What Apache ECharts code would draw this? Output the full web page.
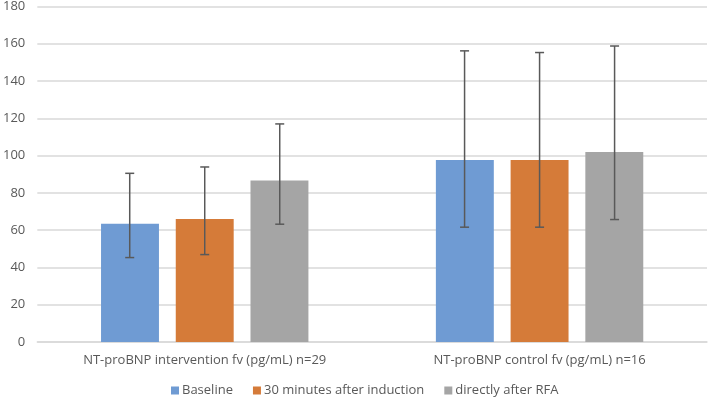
<!DOCTYPE html>
<html><head><meta charset="utf-8">
<script src="https://cdn.jsdelivr.net/npm/echarts@6/dist/echarts.min.js"></script>
<style>html,body{margin:0;padding:0;background:#fff}#c{width:709px;height:404px}</style>
</head><body><div id="c"></div>
<script>
const categories = ['NT-proBNP intervention fv (pg/mL) n=29', 'NT-proBNP control fv (pg/mL) n=16'];
const seriesNames = ['Baseline', '30 minutes after induction', 'directly after RFA'];
const baseline = [63.5, 97.6];
const after30 = [66, 97.6];
const afterRFA = [86.6, 101.9];
const baselineLow = [45.3, 61.6];
const baselineHigh = [90.5, 156.2];
const after30Low = [46.9, 61.6];
const after30High = [93.9, 155.3];
const afterRFALow = [63.2, 65.7];
const afterRFAHigh = [117.0, 158.8];
const yTicks = [0, 20, 40, 60, 80, 100, 120, 140, 160, 180];

const colors = ['#6f9bd3', '#d57b39', '#a5a5a5'];
const values = [baseline, after30, afterRFA];
const lows = [baselineLow, after30Low, afterRFALow];
const highs = [baselineHigh, after30High, afterRFAHigh];
const barFrac = 0.173, gapFrac = 0.051;

const chart = echarts.init(document.getElementById('c'));
const series = [];
values.forEach((v, i) => {
  series.push({
    name: seriesNames[i], type: 'bar', data: v,
    barWidth: (barFrac * 100) + '%', barGap: '29%',
    itemStyle: { color: colors[i] }, z: 2
  });
});
values.forEach((v, i) => {
  series.push({
    type: 'custom', name: 'err' + i, z: 5,
    data: categories.map((c, k) => [k, lows[i][k], highs[i][k]]),
    renderItem: function (params, api) {
      const k = api.value(0);
      const band = api.size([1, 0])[0];
      const off = (i - 1) * band * (barFrac + gapFrac);
      const lo = api.coord([k, api.value(1)]);
      const hi = api.coord([k, api.value(2)]);
      const x = lo[0] + off;
      const cap = 4.5;
      const st = { stroke: '#595959', lineWidth: 1.5 };
      return { type: 'group', children: [
        { type: 'line', shape: { x1: x, y1: lo[1], x2: x, y2: hi[1] }, style: st },
        { type: 'line', shape: { x1: x - cap, y1: lo[1], x2: x + cap, y2: lo[1] }, style: st },
        { type: 'line', shape: { x1: x - cap, y1: hi[1], x2: x + cap, y2: hi[1] }, style: st }
      ]};
    },
    encode: { x: 0, y: [1, 2] },
    tooltip: { show: false }
  });
});

chart.setOption({
  animation: false,
  textStyle: { fontFamily: 'Open Sans' },
  grid: { left: 37, right: 2, top: 4, bottom: 62 },
  legend: {
    data: seriesNames, bottom: 2, left: 166,
    itemWidth: 8, itemHeight: 8, itemGap: 20, icon: 'rect',
    textStyle: { color: '#595959', fontSize: 13, fontFamily: 'Open Sans', padding: [0, 0, 0, -2] }
  },
  xAxis: {
    type: 'category', data: categories,
    axisLine: { lineStyle: { color: '#d9d9d9', width: 1.5 } },
    axisTick: { show: false },
    axisLabel: { color: '#595959', fontSize: 13, margin: 12, fontFamily: 'Open Sans' }
  },
  yAxis: {
    type: 'value', min: yTicks[0], max: yTicks[yTicks.length - 1], interval: 20,
    axisLine: { show: false }, axisTick: { show: false },
    axisLabel: { color: '#595959', fontSize: 13, margin: 12, fontFamily: 'Open Sans' },
    splitLine: { lineStyle: { color: '#d9d9d9', width: 1.5 } }
  },
  series: series
});
</script></body></html>
